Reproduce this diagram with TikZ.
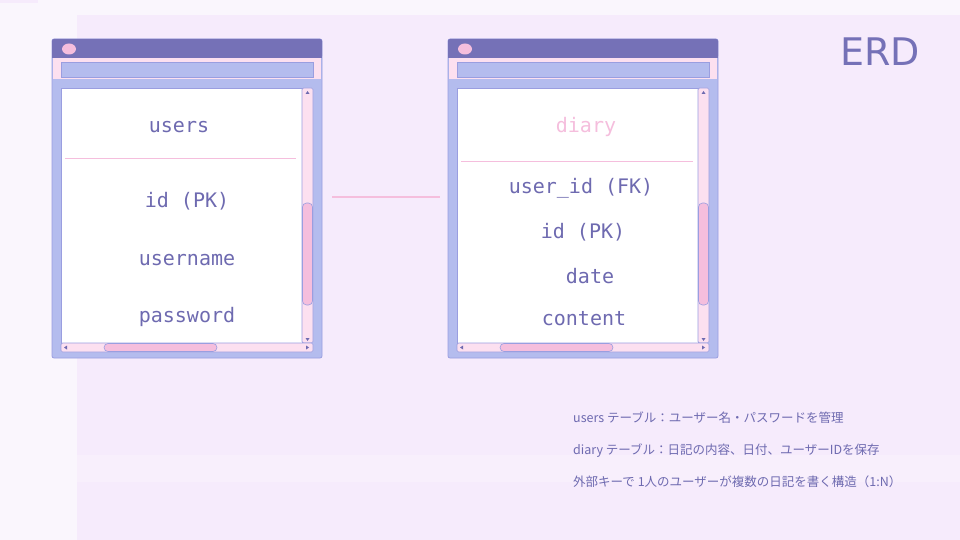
\documentclass[tikz,border=0pt]{standalone}
\usepackage{fontspec}
\setmainfont{DejaVu Sans}
\newfontfamily\cjk{Noto Sans CJK JP}
\newfontfamily\monof{DejaVu Sans Mono}
\definecolor{bgA}{HTML}{FAF6FD}
\definecolor{bgB}{HTML}{F6EBFC}
\definecolor{titlec}{HTML}{7571B7}
\definecolor{framec}{HTML}{B4BCEE}
\definecolor{edgec}{HTML}{9A9EE0}
\definecolor{pinkL}{HTML}{FCE0F0}
\definecolor{pinkM}{HTML}{F5BEDD}
\definecolor{txt}{HTML}{6E6AB0}
\tikzset{
  fieldtext/.style={font=\monof\fontsize{20}{22}\selectfont, text=txt, inner sep=0pt},
  notetext/.style={font=\cjk\fontsize{12.5}{14}\selectfont, text=txt, inner sep=0pt, anchor=west},
  rel/.style={draw=pinkM, line width=2pt}
}
\newcommand{\erdwindow}[1]{%
  \begin{scope}[xshift=#1]
    \fill[framec, draw=edgec, line width=0.8pt, rounded corners=2pt] (52,39) rectangle (322,358);
    \fill[titlec, rounded corners=2pt] (52,39) rectangle (322,58);
    \fill[titlec] (52,50) rectangle (322,58);
    \fill[pinkM] (69,49) ellipse (7 and 5.5);
    \fill[pinkL] (53,58) rectangle (321,79);
    \fill[framec, draw=edgec, line width=0.6pt] (61,62) rectangle (313,77);
    \fill[white, draw=edgec, line width=0.6pt] (61,88) rectangle (302,343);
    \fill[pinkL, draw=edgec, line width=0.6pt, rounded corners=1.5pt] (302,88) rectangle (313,343);
    \fill[pinkM, draw=edgec, line width=0.6pt, rounded corners=4pt] (302.5,203) rectangle (312.5,305);
    \fill[txt] (305.5,94) -- (309.5,94) -- (307.5,91) -- cycle;
    \fill[txt] (305.5,338) -- (309.5,338) -- (307.5,341) -- cycle;
    \fill[pinkL, draw=edgec, line width=0.6pt, rounded corners=1.5pt] (61,343) rectangle (313,352);
    \fill[pinkM, draw=edgec, line width=0.6pt, rounded corners=4pt] (104,343.5) rectangle (217,351.5);
    \fill[txt] (67,345.5) -- (67,349.5) -- (64,347.5) -- cycle;
    \fill[txt] (306,345.5) -- (306,349.5) -- (309,347.5) -- cycle;
  \end{scope}}
\begin{document}
\begin{tikzpicture}[x=1pt,y=-1pt]
  \useasboundingbox (0,0) rectangle (960,540);
  \fill[bgA] (0,0) rectangle (960,540);
  \fill[bgB] (77,15) rectangle (960,455);
  \fill[bgB] (77,482) rectangle (960,540);
  \fill[bgB!60!bgA] (77,455) rectangle (960,482);
  \fill[bgB] (0,0) rectangle (38,3);
  \erdwindow{0pt}
  \erdwindow{396pt}
  % users table
  \node[fieldtext] (users) at (179,127) {users};
  \draw[pinkM, line width=0.8pt] (65,158) -- (296,158);
  \node[fieldtext] (uid) at (187,201) {id (PK)};
  \node[fieldtext] (uname) at (187,260) {username};
  \node[fieldtext] (upass) at (187,317) {password};
  % diary table
  \node[fieldtext, text=pinkM] (diary) at (586,127) {diary};
  \draw[pinkM, line width=0.8pt] (461,161) -- (693,161);
  \node[fieldtext] (duid) at (581,188) {user\_id (FK)};
  \node[fieldtext] (did) at (583,232) {id (PK)};
  \node[fieldtext] (ddate) at (590,276) {date};
  \node[fieldtext] (dcont) at (584,319) {content};
  % relation
  \coordinate (ra) at (332,197);
  \coordinate (rb) at (440,197);
  \draw[rel] (ra) -- (rb);
  % title
  \node[font=\fontsize{38}{40}\selectfont, text=titlec, inner sep=0pt] (erd) at (880,52) {ERD};
  % notes
  \node[notetext] (n1) at (573,418) {users テーブル：ユーザー名・パスワードを管理};
  \node[notetext] (n2) at (573,451) {diary テーブル：日記の内容、日付、ユーザーIDを保存};
  \node[notetext] (n3) at (573,482) {外部キーで 1人のユーザーが複数の日記を書く構造（1:N）};
\end{tikzpicture}
\end{document}
